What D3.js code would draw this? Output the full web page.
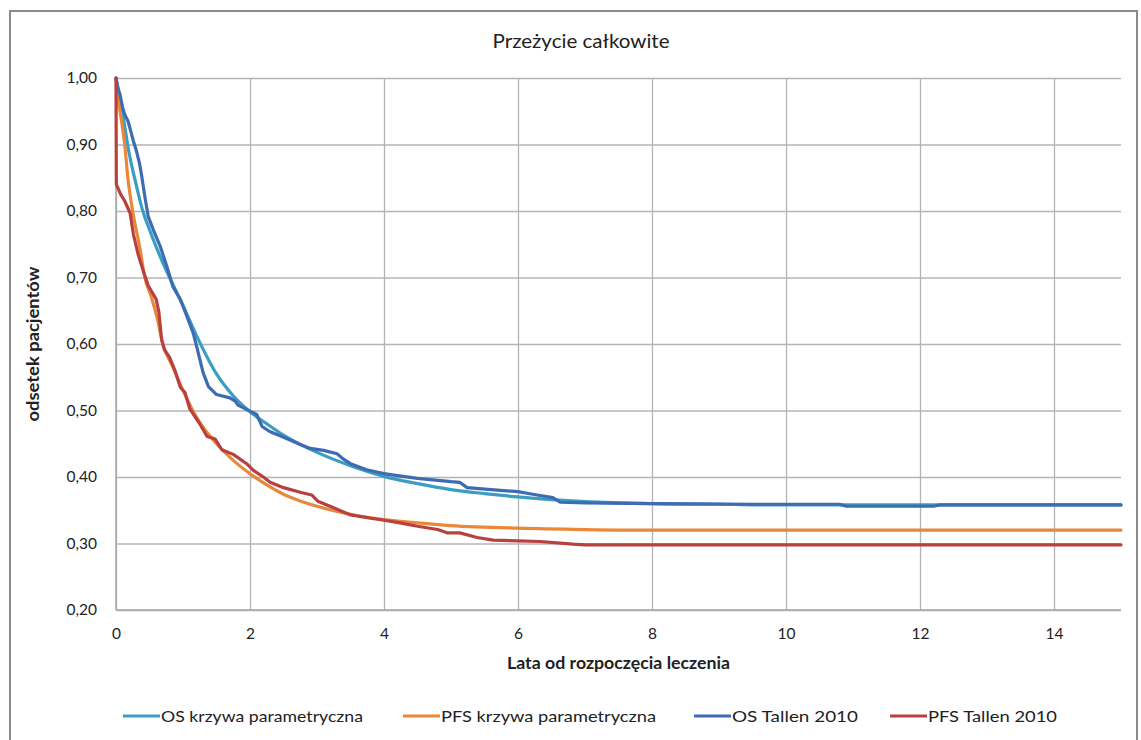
<!DOCTYPE html>
<html>
<head>
<meta charset="utf-8">
<script src="https://cdn.jsdelivr.net/npm/d3@7"></script>
<style>
  html, body { margin: 0; padding: 0; background: #fff; }
  svg { display: block; }
  text { font-family: Lato, "Open Sans", sans-serif; fill: #222; }
</style>
</head>
<body>
<svg id="chart" width="1141" height="740"></svg>
<script>
const title = "Przeżycie całkowite";
const xTitle = "Lata od rozpoczęcia leczenia";
const yTitle = "odsetek pacjentów";
const xTicks = [0, 2, 4, 6, 8, 10, 12, 14];
const yTicks = [0.2, 0.3, 0.4, 0.5, 0.6, 0.7, 0.8, 0.9, 1.0];
const seriesNames = ["OS krzywa parametryczna", "PFS krzywa parametryczna", "OS Tallen 2010", "PFS Tallen 2010"];
const seriesColors = ["#3c9dc3", "#e9883a", "#3d6cb2", "#b8403f"];

const osParam = [
  [0,1.0],[0.05,0.97],[0.1,0.945],[0.2,0.885],[0.3,0.84],[0.4,0.80],[0.5,0.772],[0.6,0.746],
  [0.7,0.722],[0.8,0.70],[1.0,0.658],[1.2,0.613],[1.5,0.555],[1.75,0.522],[2.0,0.498],
  [2.25,0.48],[2.5,0.463],[2.75,0.449],[3.0,0.437],[3.5,0.417],[4.0,0.401],[4.5,0.39],
  [5.0,0.381],[5.5,0.375],[6.0,0.37],[6.5,0.366],[7.0,0.363],[8.0,0.36],[9.0,0.359],
  [10,0.358],[12,0.358],[15,0.358]
];
const pfsParam = [
  [0,1.0],[0.03,0.97],[0.08,0.937],[0.13,0.90],[0.18,0.847],[0.24,0.805],[0.36,0.742],
  [0.43,0.70],[0.53,0.67],[0.61,0.641],[0.7,0.60],[0.85,0.565],[1.0,0.53],[1.25,0.482],
  [1.5,0.45],[1.75,0.425],[2.0,0.405],[2.25,0.388],[2.5,0.374],[2.75,0.364],[3.0,0.356],
  [3.5,0.344],[4.0,0.336],[4.5,0.331],[5.0,0.327],[6.0,0.323],[7.0,0.321],[8.0,0.32],
  [10,0.32],[15,0.32]
];
const osTallen = [
  [0,1.0],[0.03,0.985],[0.06,0.975],[0.08,0.965],[0.1,0.955],[0.13,0.945],[0.18,0.935],
  [0.22,0.92],[0.26,0.905],[0.3,0.892],[0.35,0.872],[0.38,0.855],[0.43,0.822],[0.48,0.792],
  [0.56,0.771],[0.66,0.747],[0.76,0.716],[0.85,0.686],[0.96,0.667],[1.06,0.641],[1.15,0.617],
  [1.2,0.598],[1.3,0.557],[1.38,0.536],[1.5,0.524],[1.7,0.519],[1.78,0.514],[1.82,0.508],
  [2.0,0.499],[2.1,0.494],[2.18,0.476],[2.3,0.468],[2.45,0.462],[2.75,0.449],[2.9,0.443],
  [3.1,0.44],[3.3,0.435],[3.38,0.428],[3.5,0.42],[3.74,0.411],[4.0,0.405],[4.2,0.402],
  [4.5,0.398],[5.0,0.393],[5.13,0.392],[5.24,0.384],[5.6,0.381],[6.0,0.378],[6.22,0.374],
  [6.52,0.369],[6.63,0.362],[7.0,0.361],[8.0,0.36],[9.5,0.359],[10.8,0.359],[10.9,0.356],
  [12.2,0.356],[12.3,0.358],[15,0.358]
];
const pfsTallen = [
  [0,1.0],[0.005,0.84],[0.07,0.825],[0.13,0.815],[0.21,0.797],[0.26,0.765],[0.33,0.735],
  [0.4,0.712],[0.48,0.688],[0.55,0.676],[0.6,0.667],[0.64,0.648],[0.66,0.628],[0.68,0.607],
  [0.72,0.592],[0.8,0.58],[0.88,0.56],[0.96,0.535],[1.03,0.527],[1.1,0.503],[1.25,0.48],
  [1.36,0.461],[1.48,0.457],[1.58,0.441],[1.75,0.434],[1.95,0.42],[2.05,0.41],[2.2,0.40],
  [2.3,0.392],[2.5,0.384],[2.75,0.377],[2.92,0.373],[3.02,0.363],[3.24,0.354],[3.5,0.343],
  [3.8,0.338],[4.0,0.335],[4.24,0.331],[4.5,0.326],[4.8,0.321],[4.94,0.316],[5.13,0.316],
  [5.39,0.309],[5.63,0.305],[6.0,0.304],[6.33,0.303],[6.82,0.299],[7.0,0.298],[15,0.298]
];
const seriesData = [osParam, pfsParam, osTallen, pfsTallen];
const seriesSmooth = [true, true, false, false];

const svg = d3.select("#chart");
const plot = { left: 116, right: 1121, top: 78, bottom: 610 };

// outer frame
svg.append("rect").attr("x", 10).attr("y", 11).attr("width", 1127).attr("height", 740)
  .attr("fill", "#fff").attr("stroke", "#8a8a8a").attr("stroke-width", 2);

const x = d3.scaleLinear().domain([0, 15]).range([plot.left, plot.right]);
const y = d3.scaleLinear().domain([0.2, 1.0]).range([plot.bottom, plot.top]);

const pl = d3.formatLocale({ decimal: ",", thousands: " ", grouping: [3], currency: ["", " zł"] });
const fmt = pl.format(".2f");

// horizontal grid + y labels
const yAxis = svg.append("g").attr("transform", `translate(${plot.left},0)`)
  .call(d3.axisLeft(y).tickValues(yTicks).tickSize(-(plot.right - plot.left)).tickPadding(19).tickFormat(fmt));
yAxis.select(".domain").remove();
yAxis.selectAll(".tick line").attr("stroke", "#b4b4b4").attr("stroke-width", 1.3);
yAxis.selectAll(".tick text").style("font-size", "15.5px").style("font-family", "Lato, sans-serif").attr("fill", "#222");

// vertical grid + x labels
const xAxis = svg.append("g").attr("transform", `translate(0,${plot.bottom})`)
  .call(d3.axisBottom(x).tickValues(xTicks).tickSize(-(plot.bottom - plot.top)).tickPadding(18).tickFormat(d3.format("d")));
xAxis.select(".domain").remove();
xAxis.selectAll(".tick line").attr("stroke", "#b4b4b4").attr("stroke-width", 1.3);
xAxis.selectAll(".tick text").style("font-size", "15.5px").style("font-family", "Lato, sans-serif").attr("fill", "#222");

// axis lines
svg.append("line").attr("x1", x(0)).attr("x2", x(0)).attr("y1", y(1.0)).attr("y2", y(0.2))
  .attr("stroke", "#a8a8a8").attr("stroke-width", 1.5);
svg.append("line").attr("x1", x(0)).attr("x2", x(15)).attr("y1", y(0.2)).attr("y2", y(0.2))
  .attr("stroke", "#a8a8a8").attr("stroke-width", 1.5);

// series
seriesData.forEach((data, i) => {
  const line = d3.line().x(d => x(d[0])).y(d => y(d[1]))
    .curve(seriesSmooth[i] ? d3.curveMonotoneX : d3.curveLinear);
  svg.append("path").datum(data).attr("d", line)
    .attr("fill", "none").attr("stroke", seriesColors[i]).attr("stroke-width", 3.2)
    .attr("stroke-linejoin", "round").attr("stroke-linecap", "round");
});

// title
svg.append("text").attr("x", 581).attr("y", 48).attr("text-anchor", "middle")
  .style("font-size", "19px").style("font-family", "Lato, sans-serif")
  .attr("textLength", 177).attr("lengthAdjust", "spacingAndGlyphs").text(title);

// axis titles
svg.append("text").attr("x", (plot.left + plot.right) / 2).attr("y", 669).attr("text-anchor", "middle")
  .style("font-size", "17px").style("font-weight", "bold").style("font-family", "Lato, sans-serif")
  .attr("textLength", 223).attr("lengthAdjust", "spacingAndGlyphs").text(xTitle);
svg.append("text").attr("transform", `translate(39,${(plot.top + plot.bottom) / 2}) rotate(-90)`)
  .attr("text-anchor", "middle")
  .style("font-size", "17px").style("font-weight", "bold").style("font-family", "Lato, sans-serif")
  .attr("textLength", 155).attr("lengthAdjust", "spacingAndGlyphs").text(yTitle);

// legend
const legendX = [123, 403, 694, 890];
const legendTextW = [202, 215, 126, 129];
seriesNames.forEach((name, i) => {
  const g = svg.append("g").attr("transform", `translate(${legendX[i]},716)`);
  g.append("line").attr("x1", 0).attr("x2", 37).attr("y1", 0).attr("y2", 0)
    .attr("stroke", seriesColors[i]).attr("stroke-width", 3);
  g.append("text").attr("x", 38).attr("y", 6)
    .style("font-size", "16px").style("font-family", "Lato, sans-serif")
    .attr("textLength", legendTextW[i]).attr("lengthAdjust", "spacingAndGlyphs")
    .text(name);
});
</script>
</body>
</html>
